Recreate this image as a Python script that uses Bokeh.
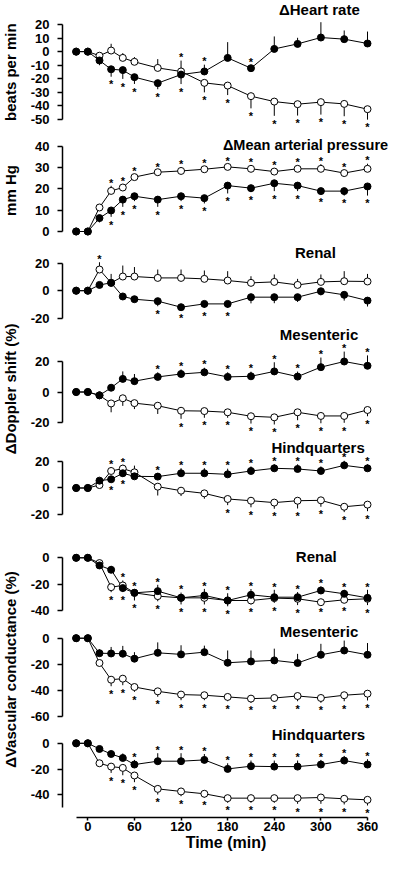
from math import pi
from bokeh.plotting import figure
from bokeh.layouts import row, column
from bokeh.models import Range1d, FixedTicker, Label, ColumnDataSource
from bokeh.core.properties import value
from bokeh.embed import file_html
from bokeh.resources import INLINE

FONT = "Liberation Sans"

# ---------------- data ----------------
time_min = [-15, 0, 15, 30, 45, 60, 90, 120, 150, 180, 210, 240, 270, 300, 330, 360]
x_ticks = [0, 60, 120, 180, 240, 300, 360]

# Heart rate (beats per min)
hr_filled = [0, 0, -6.5, -13, -13.6, -18.8, -23.2, -16.9, -14.6, -4.6, -12.2, 2, 5.7, 10.4, 9.2, 6]
hr_filled_sem = [0, 0, -3.5, -5.5, -6.5, -5, -4.5, -7, 5, 11.6, 2, 9.2, 4.5, 11.3, 6.4, 8.8]
hr_filled_sig = [0, 0, 0, 1, 1, 1, 1, 1, 1, 0, 1, 0, 0, 0, 0, 0]
hr_open = [0, 0, -3, 0.8, -4.6, -7.5, -12, -14.6, -23, -25, -32.8, -36.8, -38.7, -37.2, -38.5, -42.4]
hr_open_sem = [0, 0, 2, 5, 3.5, 3.5, 6.5, 8, -7, -7, -9, -10.5, -8.4, -9.2, -9.1, -7.7]
hr_open_sig = [0, 0, 0, 0, 0, 0, 0, 1, 1, 1, 1, 1, 1, 1, 1, 1]

# Mean arterial pressure (mm Hg)
map_filled = [0, 0, 6.3, 9.9, 15, 16.6, 15, 16.6, 15.7, 21.6, 20.4, 22.7, 21.6, 19, 19, 21.2]
map_filled_sem = [0, 0, -2, -3, -3.4, -2.3, -3.4, -2.3, -2.5, -3.7, -1.9, -3.7, -2.6, -1.6, -2.1, -4.3]
map_filled_sig = [0, 0, 0, 1, 1, 1, 1, 1, 1, 1, 1, 1, 1, 1, 1, 1]
map_open = [0, 0, 11.3, 19.1, 20.7, 25.6, 27.9, 28.5, 29.3, 30.4, 29.5, 28.2, 29.5, 29.5, 27.5, 29.5]
map_open_sem = [0, 0, 1.5, 2.4, 1.6, 1.4, 1.1, 1.6, 1.5, 1.3, 1.6, 1.6, 1.6, 2.2, 1.5, 2.4]
map_open_sig = [0, 0, 0, 1, 1, 1, 1, 1, 1, 1, 1, 1, 1, 1, 1, 1]

# Doppler shift (%) - renal
rd_filled = [0, 0, 4.2, 5.7, -4.2, -6.2, -7.6, -12, -9.6, -9.6, -4.7, -4.7, -4.7, -0.4, -3, -7.2]
rd_filled_sem = [0, 0, -1, 0, -1.5, -1.5, -3.7, -2.2, -2.9, -2.9, -4.5, -4.4, -3.5, -3, -4.2, -4.3]
rd_filled_sig = [0, 0, 0, 0, 0, 0, 1, 1, 1, 1, 0, 0, 0, 0, 0, 0]
rd_open = [0, 0, 15.4, 5.7, 10.3, 10.3, 9.3, 9.3, 8.6, 7.4, 5.7, 6.4, 4.2, 6.4, 6.9, 6.7]
rd_open_sem = [0, 0, 5.3, 6.5, 8, 6.9, 6.1, 6.1, 6.1, 6.8, 4.8, 5.4, 4.4, 5.4, 7.3, 5.5]
rd_open_sig = [0, 0, 1, 0, 0, 0, 0, 0, 0, 0, 0, 0, 0, 0, 0, 0]

# Doppler shift (%) - mesenteric
md_filled = [0, 0, -2.2, 2.8, 8.6, 7.1, 9.9, 11.8, 12.9, 9.9, 10.3, 13.5, 10.1, 16.3, 20, 17.2]
md_filled_sem = [0, 0, 0, 2, 4.9, 4.7, 3, 3, 3, 3, 3, 6, 3.3, 6.3, 6.5, 6.8]
md_filled_sig = [0, 0, 0, 0, 0, 0, 1, 1, 1, 1, 1, 1, 1, 1, 1, 1]
md_open = [0, 0, -2.2, -7.5, -4.1, -7.3, -9, -12.3, -12.5, -13.3, -15.9, -16.6, -13.3, -15.7, -15.7, -11.8]
md_open_sem = [0, 0, 0, -5.8, -5, -3.9, -5.4, -5.3, -4.4, -3.6, -4.8, -4.7, -5.2, -4.8, -4.5, -4.1]
md_open_sig = [0, 0, 0, 0, 0, 0, 0, 1, 1, 1, 1, 1, 1, 1, 1, 1]

# Doppler shift (%) - hindquarters
hd_filled = [0, 0, 5.5, 6.5, 11, 8.7, 8.5, 11, 11, 10.2, 12.7, 14.7, 14.2, 12.7, 16.9, 14.7]
hd_filled_sem = [0, 0, 0, -2.2, -2.6, -2, 2.5, 3.8, 3.8, 4.2, 3.4, 3, 3.5, 3.4, 3.4, 3]
hd_filled_sig = [0, 0, 0, 1, 1, 0, 1, 1, 1, 1, 1, 1, 1, 1, 1, 1]
hd_open = [0, 0, 2.2, 12.7, 14.5, 11.7, 1, -2, -4, -8.2, -9.5, -10.9, -9.5, -9.2, -14, -12.4]
hd_open_sem = [0, 0, -2, 2.8, 2.8, 5, -6.6, -4, -4, -4.6, -4.9, -4.6, -5.8, -4.8, -4, -4.9]
hd_open_sig = [0, 0, 0, 1, 1, 0, 0, 0, 0, 1, 1, 1, 1, 1, 1, 1]

# Vascular conductance (%) - renal
rc_filled = [0, 0, -5.8, -9.1, -23, -26.6, -25.3, -30.4, -28.6, -32.4, -28.1, -29.9, -29.9, -24.8, -27.3, -30.4]
rc_filled_sem = [0, 0, 0, 3, 5.8, 2.4, 4.8, 4, 5, 5.5, 4.4, 5.6, 3.9, 3, 3, 6.1]
rc_filled_sig = [0, 0, 0, 0, 1, 1, 1, 1, 1, 1, 1, 1, 1, 1, 1, 1]
rc_open = [0, 0, -4, -22.3, -21, -26.6, -29.1, -30.4, -30.4, -32.4, -32.4, -30.6, -31.1, -33.7, -31.9, -31.1]
rc_open_sem = [0, 0, -2, -3.8, -5, -5.8, -3.9, -5, -5, -4.4, -3, -3.6, -4.8, -1.8, -2.3, -4.8]
rc_open_sig = [0, 0, 0, 1, 1, 1, 1, 1, 1, 1, 1, 1, 1, 1, 1, 1]

# Vascular conductance (%) - mesenteric
mc_filled = [0, 0, -11.5, -11.7, -11.9, -15.7, -11.2, -12.4, -10.7, -18.8, -17.8, -17, -19, -12.7, -9.4, -12.7]
mc_filled_sem = [0, 0, 3, 5, 6, 5, 8, 7, 5, 9.4, 8.4, 9, 7, 8.4, 7.6, 9]
mc_filled_sig = [0] * 16
mc_open = [0, 0, -19, -31.8, -31, -37.4, -40.7, -43.2, -43.7, -45, -46.3, -45.8, -44.3, -45.8, -43.7, -42.5]
mc_open_sem = [0, 0, -2, -5, -5, -3.7, -4.2, -4.3, -3.8, -3.3, -3.2, -2.9, -4, -3.7, -4.6, -5.2]
mc_open_sig = [0, 0, 0, 1, 1, 1, 1, 1, 1, 1, 1, 1, 1, 1, 1, 1]

# Vascular conductance (%) - hindquarters
hc_filled = [0, 0, -4.4, -8.3, -11.4, -16.5, -13.9, -13.9, -12.9, -19.9, -17.8, -18.1, -18.1, -16.5, -13.4, -16.5]
hc_filled_sem = [0, 0, 1.5, 2.5, 3.5, 3.6, 6.2, 6.2, 4.6, 4.4, 4.4, 4.7, 4.7, 3.6, 3.6, 4.1]
hc_filled_sig = [0, 0, 0, 0, 0, 1, 1, 1, 1, 1, 1, 1, 1, 1, 1, 1]
hc_open = [0, 0, -15.5, -18.1, -19.1, -25, -35.4, -37.4, -39.2, -42.6, -42.6, -42.6, -42.6, -42.1, -43.1, -43.9]
hc_open_sem = [0, 0, -2, -4.9, -5.7, -5.2, -4.4, -3.7, -3.1, -3.6, -3.6, -3.6, -4.4, -4.9, -4.4, -4.4]
hc_open_sig = [0, 0, 0, 1, 1, 1, 1, 1, 1, 1, 1, 1, 1, 1, 1, 1]

panel_titles = ["\u0394Heart rate", "\u0394Mean arterial pressure", "Renal", "Mesenteric",
                "Hindquarters", "Renal", "Mesenteric", "Hindquarters"]
y_labels = ["beats per min", "mm Hg", "\u0394Doppler shift (%)", "\u0394Vascular conductance (%)"]

# ---------------- layout config ----------------
panels = [
    dict(f=(hr_filled, hr_filled_sem, hr_filled_sig), o=(hr_open, hr_open_sem, hr_open_sig),
         ticks=[20, 10, 0, -10, -20, -30, -40, -50], bounds=(-50, 20), yr=(-61.79, 37.68), h=135,
         tx=298, ty=31.05, talign="center", tsize="15px"),
    dict(f=(map_filled, map_filled_sem, map_filled_sig), o=(map_open, map_open_sem, map_open_sig),
         ticks=[40, 30, 20, 10, 0], bounds=(0, 40), yr=(-4.71, 45.18), h=106,
         tx=386.5, ty=40.85, talign="right", tsize="14.5px"),
    dict(f=(rd_filled, rd_filled_sem, rd_filled_sig), o=(rd_open, rd_open_sem, rd_open_sig),
         ticks=[20, 0, -20], bounds=(-20, 20), yr=(-26.04, 35.78), h=85,
         tx=293, ty=27.78, talign="center", tsize="15px"),
    dict(f=(md_filled, md_filled_sem, md_filled_sig), o=(md_open, md_open_sem, md_open_sig),
         ticks=[20, 0, -20], bounds=(-20, 20), yr=(-30.49, 42.95), h=112,
         tx=297.6, ty=37.38, talign="center", tsize="15px"),
    dict(f=(hd_filled, hd_filled_sem, hd_filled_sig), o=(hd_open, hd_open_sem, hd_open_sig),
         ticks=[20, 0, -20], bounds=(-20, 20), yr=(-31.72, 36.94), h=92,
         tx=296.4, ty=30.22, talign="center", tsize="15px"),
    dict(f=(rc_filled, rc_filled_sem, rc_filled_sig), o=(rc_open, rc_open_sem, rc_open_sig),
         ticks=[0, -20, -40], bounds=(-40, 0), yr=(-48.35, 20.72), h=91,
         tx=294, ty=0.99, talign="center", tsize="15px"),
    dict(f=(mc_filled, mc_filled_sem, mc_filled_sig), o=(mc_open, mc_open_sem, mc_open_sig),
         ticks=[0, -20, -40, -60], bounds=(-60, 0), yr=(-66.13, 12.80), h=103,
         tx=297.6, ty=4.9, talign="center", tsize="15px"),
    dict(f=(hc_filled, hc_filled_sem, hc_filled_sig), o=(hc_open, hc_open_sem, hc_open_sig),
         ticks=[0, -20, -40], bounds=(-50, 0), yr=(-57.63, 14.60), h=130,
         tx=296.8, ty=6.83, talign="center", tsize="15px"),
]
label_pos = [71.7, 190, 388.3, 669]

TOTAL_H = 854
LABEL_W = 20
PANEL_W = 369
BORDER_LEFT = 42
BOTTOM_AXIS_H = 37
STAR_DOWN = 7.7
STAR_UP = -3.3

x_range = Range1d(-32.6, 388.3)


def star_source(vals, sem, sig):
    xs, ys, off = [], [], []
    for t, v, e, s in zip(time_min, vals, sem, sig):
        if s:
            xs.append(t)
            ys.append(v + e)
            off.append(STAR_DOWN if e < 0 else STAR_UP)
    return ColumnDataSource(dict(x=xs, y=ys, off=off, txt=["*"] * len(xs)))


def make_panel(i, cfg, last):
    p = figure(width=PANEL_W, height=cfg["h"], x_range=x_range, y_range=Range1d(*cfg["yr"]),
               output_backend="svg", toolbar_location=None, title=None,
               x_axis_type="linear" if last else None)
    p.min_border = 0
    p.min_border_left = BORDER_LEFT
    p.min_border_right = 0
    p.min_border_top = 0
    p.min_border_bottom = BOTTOM_AXIS_H if last else 0
    p.outline_line_color = None
    p.xgrid.visible = False
    p.ygrid.visible = False
    p.background_fill_color = "white"
    p.border_fill_color = "white"

    ya = p.yaxis[0]
    ya.ticker = FixedTicker(ticks=cfg["ticks"])
    ya.bounds = cfg["bounds"]
    ya.major_label_overrides = {t: str(t) for t in cfg["ticks"]}
    ya.major_label_text_font = FONT
    ya.major_label_text_font_style = "bold"
    ya.major_label_text_font_size = "13px"
    ya.major_label_text_color = "black"
    ya.major_label_standoff = 8
    ya.major_tick_out = 5
    ya.major_tick_in = 0
    ya.minor_tick_out = 0
    ya.minor_tick_in = 0
    ya.axis_line_width = 1.5
    ya.major_tick_line_width = 1.5
    ya.axis_line_color = "black"
    ya.major_tick_line_color = "black"

    if last:
        xa = p.xaxis[0]
        xa.ticker = FixedTicker(ticks=x_ticks)
        xa.bounds = (-15, 360)
        xa.major_label_text_font = FONT
        xa.major_label_text_font_style = "bold"
        xa.major_label_text_font_size = "13px"
        xa.major_label_text_color = "black"
        xa.major_label_standoff = 1
        xa.major_tick_out = 3
        xa.major_tick_in = 0
        xa.minor_tick_out = 0
        xa.minor_tick_in = 0
        xa.axis_line_width = 1.5
        xa.major_tick_line_width = 1.5
        xa.axis_label = "Time (min)"
        xa.axis_label_text_font = FONT
        xa.axis_label_text_font_style = "bold"
        xa.axis_label_text_font_size = "16px"
        xa.axis_label_text_color = "black"
        xa.axis_label_standoff = 0

    fv, fe, fs = cfg["f"]
    ov, oe, os_ = cfg["o"]

    # connecting lines
    p.line(time_min, ov, line_color="black", line_width=1)
    p.line(time_min, fv, line_color="black", line_width=1)
    # one-sided SEM bars
    for vals, sem in ((ov, oe), (fv, fe)):
        tips = [v + e for v, e in zip(vals, sem)]
        p.segment(x0=time_min, y0=vals, x1=time_min, y1=tips, line_color="black", line_width=1)
    # markers
    p.scatter(time_min, ov, size=7, marker="circle", fill_color="white", line_color="black", line_width=1)
    p.scatter(time_min, fv, size=7, marker="circle", fill_color="black", line_color="black", line_width=1)
    # significance asterisks
    for vals, sem, sig in ((ov, oe, os_), (fv, fe, fs)):
        src = star_source(vals, sem, sig)
        p.text(x="x", y="y", text="txt", source=src, y_offset="off",
               text_font=value(FONT), text_font_style="bold", text_font_size="11px",
               text_align="center", text_baseline="middle", text_color="black")
    # panel title
    p.add_layout(Label(x=cfg["tx"], y=cfg["ty"], text=panel_titles[i], text_font=FONT,
                       text_font_style="bold", text_font_size=cfg["tsize"], text_color="black",
                       text_align=cfg["talign"], text_baseline="middle"))
    return p


figs = [make_panel(i, cfg, i == len(panels) - 1) for i, cfg in enumerate(panels)]

lab = figure(width=LABEL_W, height=TOTAL_H, x_range=Range1d(0, LABEL_W), y_range=Range1d(TOTAL_H, 0),
             output_backend="svg", toolbar_location=None, title=None,
             x_axis_type=None, y_axis_type=None)
lab.min_border = 0
lab.outline_line_color = None
lab.xgrid.visible = False
lab.ygrid.visible = False
for txt, yy in zip(y_labels, label_pos):
    lab.add_layout(Label(x=9.5, y=yy, text=txt, angle=pi / 2, text_font=FONT,
                         text_font_style="bold", text_font_size="15px", text_color="black",
                         text_align="center", text_baseline="middle"))

layout = row(lab, column(*figs))

open("out.html", "w").write(file_html(layout, INLINE))
